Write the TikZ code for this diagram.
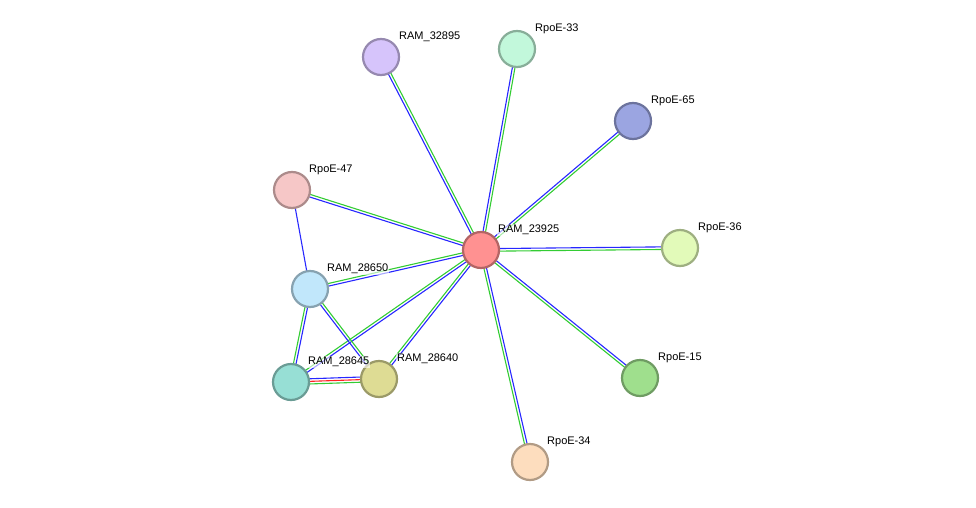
\documentclass[tikz,border=0pt]{standalone}
\usepackage{fontspec}
\setmainfont{Liberation Sans}
\usetikzlibrary{calc,backgrounds}
\newcommand\pedge[3]{%
 \foreach \c/\o in {#3}{\draw[line width=1.1pt,\c] ($(#1.center)!\o!90:(#2.center)$) -- ($(#2.center)!\o!-90:(#1.center)$);}}
\begin{document}
\begin{tikzpicture}[x=1pt,y=-1pt,
 nd/.style={circle,minimum size=36pt,inner sep=0pt,line width=2.2pt,draw=#1!70!black,fill=#1},
 lb/.style={font=\fontsize{11}{13}\selectfont,anchor=south west,inner sep=1pt,fill=white,fill opacity=0.6,text opacity=1}]
\useasboundingbox (0,0) rectangle (976,508);
\definecolor{cA}{HTML}{FF9191}\definecolor{cB}{HTML}{D6C4FB}\definecolor{cC}{HTML}{C2F8DB}
\definecolor{cD}{HTML}{9BA5E1}\definecolor{cE}{HTML}{F6C7C7}\definecolor{cF}{HTML}{E2FAB9}
\definecolor{cG}{HTML}{C1E7FB}\definecolor{cH}{HTML}{97DFD5}\definecolor{cI}{HTML}{DEDC94}
\definecolor{cJ}{HTML}{9FDF8D}\definecolor{cK}{HTML}{FDDDBE}
\definecolor{eb}{HTML}{2727FF}\definecolor{eg}{HTML}{33CC33}\definecolor{er}{HTML}{FF2222}
\node[nd=cA] (n0) at (481,250) {};
\node[nd=cB] (n1) at (381,57) {};
\node[nd=cC] (n2) at (517,49) {};
\node[nd=cD] (n3) at (633,121) {};
\node[nd=cE] (n4) at (292,190) {};
\node[nd=cF] (n5) at (680,248) {};
\node[nd=cG] (n6) at (310,289) {};
\node[nd=cH] (n7) at (291,382) {};
\node[nd=cI] (n8) at (379,379) {};
\node[nd=cJ] (n9) at (640,378) {};
\node[nd=cK] (n10) at (530,462) {};
\begin{scope}[on background layer]
\foreach \t in {n1,n2,n3,n4,n5,n6,n7,n8,n9,n10}{\pedge{n0}{\t}{eb/1.3pt,eg/-1.3pt}}
\pedge{n4}{n6}{eb/0pt}
\pedge{n6}{n7}{eb/1.3pt,eg/-1.3pt}
\pedge{n6}{n8}{eb/-1.3pt,eg/1.3pt}
\pedge{n7}{n8}{eb/2.6pt,er/0pt,eg/-2.6pt}
\end{scope}
\node[lb] at (497,236) {RAM\_23925};
\node[lb] at (398,43) {RAM\_32895};
\node[lb] at (534,35) {RpoE-33};
\node[lb] at (650,107) {RpoE-65};
\node[lb] at (308,176) {RpoE-47};
\node[lb] at (697,234) {RpoE-36};
\node[lb] at (326,275) {RAM\_28650};
\node[lb] at (307,368) {RAM\_28645};
\node[lb] at (396,365) {RAM\_28640};
\node[lb] at (657,364) {RpoE-15};
\node[lb] at (546,448) {RpoE-34};
\end{tikzpicture}
\end{document}
